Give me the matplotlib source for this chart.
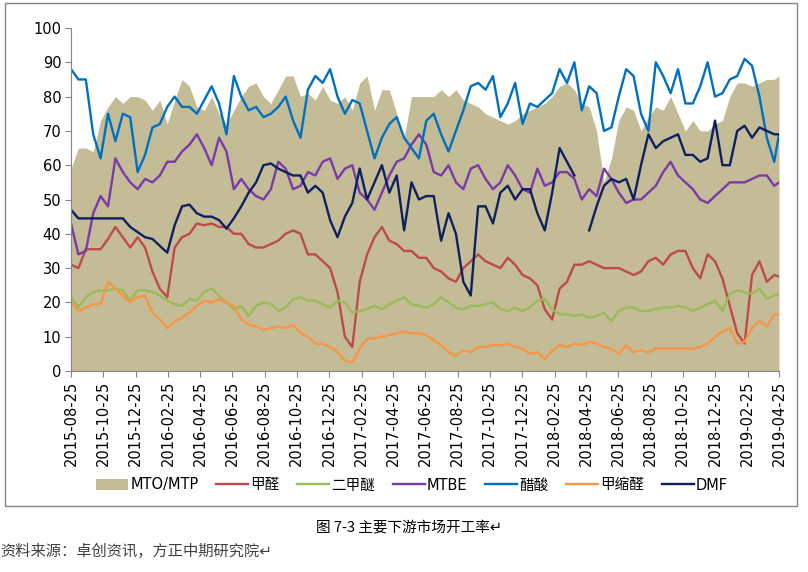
import numpy as np
import matplotlib
matplotlib.use('Agg')
import matplotlib.pyplot as plt
import matplotlib.dates as mdates
from matplotlib.patches import Rectangle

plt.rcParams['font.family'] = ['DejaVu Sans', 'Noto Sans CJK SC']

# 日期: 每两周一个点, 最后一个点 2019-04-25
start = np.datetime64('2015-08-25')
dates = np.append(start + np.arange(96) * np.timedelta64(14, 'D'), np.datetime64('2019-04-25'))

# 开工率 (%)
mto = [59, 65, 65, 64, 73, 77, 80, 78, 80, 80, 79, 76, 79, 72, 79, 85, 83, 77, 76, 80, 75, 72, 76, 80,
       83, 84, 80, 78, 82, 86, 86, 80, 81, 79, 83, 79, 78, 80, 76, 84, 86, 76, 82, 82, 75, 68, 80, 80,
       80, 80, 82, 80, 82, 79, 78, 77, 75, 74, 73, 72, 73, 75, 76, 77, 78, 80, 83, 84, 82, 78, 77, 70, 55,
       62, 73, 77, 76, 70, 74, 77, 76, 80, 75, 70, 73, 70, 70, 72, 73, 80, 84, 84, 83, 84, 85, 85, 86]

jiaquan = [31, 30, 35.5, 35.5, 35.5, 38.5, 42, 39, 36, 39, 36, 29, 24, 21.5, 36, 39, 40, 43, 42.5, 43, 42, 42, 40, 40,
           37, 36, 36, 37, 38, 40, 41, 40, 34, 34, 32, 30, 23, 10, 7, 26, 34, 39, 42, 38, 37, 35, 35, 33,
           33, 30, 29, 27, 26, 30, 32, 34, 32, 31, 30, 33, 31, 28, 27, 25, 18, 15, 24, 26, 31, 31, 32, 31, 30,
           30, 30, 29, 28, 29, 32, 33, 31, 34, 35, 35, 30, 27, 34, 32, 27, 19, 11, 8, 28, 32, 26, 28, 27.5]

erjiami = [21.7, 18.5, 21.5, 23, 23.5, 23.5, 24, 23.5, 20.5, 23.5, 23.5, 23, 22, 20.5, 19.5, 19, 21, 20.5, 23, 24, 22, 20, 18, 19,
           16, 19, 20, 19.5, 17.5, 18.5, 21, 21.5, 20.5, 20.5, 19.5, 18.5, 20.5, 20, 17, 17.5, 18, 19, 18, 19.5, 20.5, 21.5, 19.5, 19,
           18.5, 19.5, 21.5, 20, 18.5, 18, 19, 19, 19.5, 20, 18, 17.5, 18.5, 17.5, 18.5, 20.5, 21, 18, 16.5, 16.5, 16, 16.5, 15.5, 16, 17,
           14.5, 17.5, 18.5, 18.5, 17.5, 17.5, 18, 18.5, 18.5, 19, 18.5, 17.5, 18.5, 19.5, 20.5, 17.5, 22.5, 23.5, 23, 22.5, 24, 21, 22, 22.5]

mtbe = [43, 34, 35, 46, 51, 48, 62, 58, 55, 53, 56, 55, 57, 61, 61, 64, 66, 69, 65, 60, 68, 64, 53, 56,
        53, 51, 50, 53, 61, 59, 53, 54, 58, 57, 61, 62, 56, 59, 60, 52, 50, 47, 52, 57, 61, 62, 66, 69,
        66, 58, 57, 60, 55, 53, 59, 60, 56, 53, 55, 60, 57, 53, 52, 59, 54, 55, 58, 58, 56, 50, 53, 51, 59,
        56, 52, 49, 50, 50, 52, 54, 58, 61, 57, 55, 53, 50, 49, 51, 53, 55, 55, 55, 56, 57, 57, 54, 55]

cusuan = [88, 85, 85, 69, 62, 75, 67, 75, 74, 58, 63, 71, 72, 77, 80, 77, 77, 75, 79, 83, 78, 69, 86, 80,
          76, 77, 74, 75, 77, 80, 73, 68, 82, 86, 84, 88, 80, 75, 79, 78, 70, 62, 68, 72, 74, 68, 65, 62,
          73, 75, 69, 64, 70, 76, 83, 84, 82, 86, 74, 78, 84, 72, 78, 77, 79, 81, 88, 84, 90, 76, 83, 81, 70,
          71, 80, 88, 86, 75, 70, 90, 86, 81, 88, 78, 78, 83, 90, 80, 81, 85, 86, 91, 89, 80, 68, 61, 69]

jiasuoquan = [20, 17.5, 18.5, 19.5, 19.5, 26, 24, 22, 20, 21.5, 22, 17, 15, 12.5, 14.5, 15.5, 17, 19, 20.5, 20, 21, 20, 19, 15,
              13.5, 13, 12, 12.5, 13, 12.5, 13.5, 11, 10, 8, 8, 7, 5.5, 3, 2.5, 6.5, 9.5, 9.5, 10, 10.5, 11, 11.5, 11, 11,
              10.5, 9, 7.5, 5.5, 4.5, 6, 5.5, 7, 7, 7.5, 7.5, 8, 7, 6.5, 5, 5.5, 3.5, 6, 7.5, 7, 8, 7.5, 8.5, 8, 7,
              6.5, 5, 7.5, 5.5, 6, 5.5, 6.5, 6.5, 6.5, 6.5, 6.5, 6.5, 7, 8, 10, 11.5, 12.5, 8, 8.5, 12.5, 14.5, 13, 16.5, 16.5]

dmf = [47, 44.5, 44.5, 44.5, 44.5, 44.5, 44.5, 44.5, 42, 40.5, 39, 38.5, 36.5, 34.5, 42.5, 48, 48.5, 46, 45, 45, 44, 41.5, 44.5, 48,
       52, 55, 60, 60.5, 59, 58, 57, 57, 52, 54, 52, 44, 39, 45, 49, 59, 50, 55, 60, 52, 57, 41, 55, 50,
       51, 51, 38, 46, 40, 26, 22, 48, 48, 43, 52, 54, 50, 53, 53, 46, 41, 52, 65, 61, 57, np.nan, 41, 48, 54,
       56, 55, 56, 50, 60, 69, 65, 67, 68, 69, 63, 63, 61, 62, 73, 60, 60, 70, 71.5, 68, 71, 70, 69, 69]

fig = plt.figure(figsize=(8.08, 5.72), dpi=100)
ax = fig.add_axes([71/808, 1-371/572, 708/808, 343/572])

ax.fill_between(dates, mto, color='#C4BC96', lw=0, label='MTO/MTP')
lw = 1.7
ax.plot(dates, jiaquan, color='#BE4B48', lw=lw, label='甲醛')
ax.plot(dates, erjiami, color='#9BBB59', lw=lw, label='二甲醚')
ax.plot(dates, mtbe, color='#7A3BA8', lw=lw, label='MTBE')
ax.plot(dates, cusuan, color='#0070C0', lw=lw, label='醋酸')
ax.plot(dates, jiasuoquan, color='#F79646', lw=lw, label='甲缩醛')
ax.plot(dates, dmf, color='#0F2060', lw=lw, label='DMF')

ax.set_ylim(0, 100)
ax.set_yticks(range(0, 101, 10))
ax.set_xlim(np.datetime64('2015-08-25'), np.datetime64('2019-04-25'))
ax.xaxis.set_major_locator(mdates.MonthLocator(bymonth=[2, 4, 6, 8, 10, 12], bymonthday=25))
ax.xaxis.set_major_formatter(mdates.DateFormatter('%Y-%m-%d'))
plt.setp(ax.get_xticklabels(), rotation=90)

for s in ['top', 'right']:
    ax.spines[s].set_visible(False)
for s in ['left', 'bottom']:
    ax.spines[s].set_color('#868686')
ax.tick_params(direction='out', length=4, color='#868686', labelsize=10.5, pad=3)

fig.legend(loc='center', bbox_to_anchor=(0.51, 1-485/572), ncol=7, frameon=False,
           fontsize=10.5, handlelength=2.2, handletextpad=0.15, columnspacing=1.2)

fig.add_artist(Rectangle((5/808, 1-506/572), 792/808, 503/572, transform=fig.transFigure,
                         fill=False, edgecolor='#868686', lw=1))

fig.text(409/808, 1-527/572, '图 7-3 主要下游市场开工率↵', ha='center', va='center', fontsize=10.5,
         family=['Noto Sans CJK SC', 'DejaVu Sans'])
fig.text(0, 1-551/572, '资料来源：卓创资讯，方正中期研究院↵', ha='left', va='center', fontsize=11,
         color='#404040', family=['Noto Sans CJK SC', 'DejaVu Sans'])

fig.savefig('out.png', dpi=100)
